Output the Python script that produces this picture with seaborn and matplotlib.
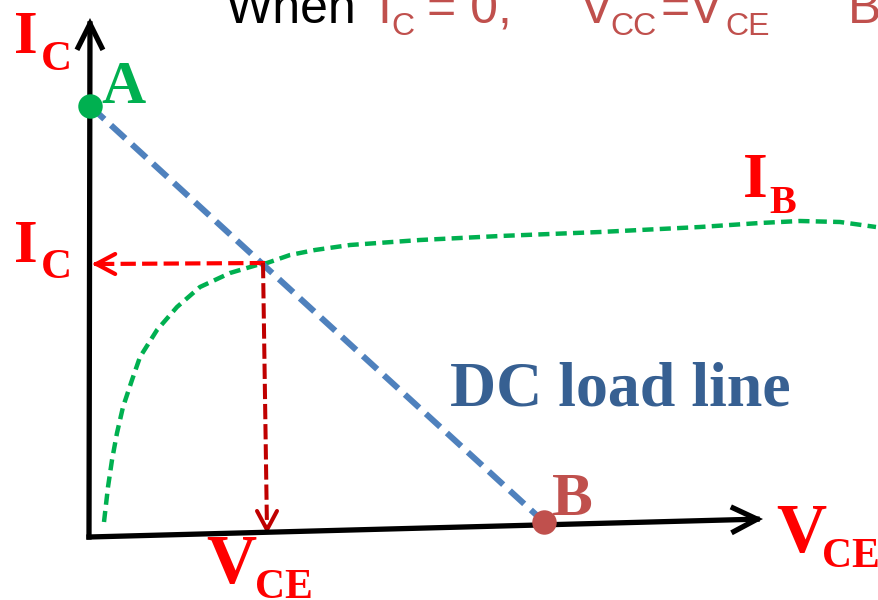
import numpy as np
import pandas as pd
import matplotlib.pyplot as plt
import seaborn as sns

# coordinates, in pixels (y grows downward)
origin = [89, 537]
ic_axis_tip = [90, 18]
vce_axis_tip = [763, 519]
point_a = [90, 106]
point_b = [544, 522]
q_point = [265, 263]
ic_arrow_tip = [92, 264]
vce_arrow_tip = [267, 534]

# base current curve (green dashed)
ib_x = [104, 108, 112, 117, 123, 132, 140, 157, 177, 200, 230, 257, 267,
        290, 315, 350, 420, 500, 600, 700, 760, 800, 840, 876]
ib_y = [522, 487, 460, 433, 407, 380, 357, 330, 307, 287, 273, 265, 263,
        255, 250, 245, 240, 236, 232, 227, 223, 221, 222, 227]

# colours
red = '#FF0000'
dark_red = '#C00000'
brick = '#C0504D'
green = '#00B050'
blue = '#4F81BD'
navy = '#376092'

sns.set_style("white")
plt.rcParams['lines.scale_dashes'] = False
serif = 'Liberation Serif'
sans = 'Liberation Sans'

fig = plt.figure(figsize=(8.79, 6.0), dpi=100)
ax = fig.add_axes([0, 0, 1, 1])

# green I_B curve
df_ib = pd.DataFrame({'x': ib_x, 'y': ib_y})
sns.lineplot(data=df_ib, x='x', y='y', sort=False, color=green, lw=3.2,
             linestyle=(0, (8, 4.5)), ax=ax)

# DC load line A -> B
df_load = pd.DataFrame({'x': [point_a[0], point_b[0]], 'y': [point_a[1], point_b[1]]})
sns.lineplot(data=df_load, x='x', y='y', sort=False, color=blue, lw=4.4,
             linestyle=(0, (14, 6.5)), ax=ax)

# projection of Q on the I_C axis
df_h = pd.DataFrame({'x': [q_point[0], ic_arrow_tip[0] + 4], 'y': [q_point[1], ic_arrow_tip[1]]})
sns.lineplot(data=df_h, x='x', y='y', sort=False, color=red, lw=3.0,
             linestyle=(0, (11, 4.5)), ax=ax)
ax.annotate('', xy=ic_arrow_tip, xytext=(ic_arrow_tip[0] + 6, ic_arrow_tip[1]),
            arrowprops=dict(arrowstyle='->,head_length=1.35,head_width=0.72',
                            color=red, lw=3.0, shrinkA=0, shrinkB=0, mutation_scale=10))

# projection of Q on the V_CE axis
df_v = pd.DataFrame({'x': [q_point[0] - 2, vce_arrow_tip[0]], 'y': [q_point[1], vce_arrow_tip[1] - 4]})
sns.lineplot(data=df_v, x='x', y='y', sort=False, color=dark_red, lw=2.9,
             linestyle=(0, (11, 3.5)), ax=ax)
ax.annotate('', xy=vce_arrow_tip, xytext=(vce_arrow_tip[0], vce_arrow_tip[1] - 6),
            arrowprops=dict(arrowstyle='->,head_length=1.35,head_width=0.72',
                            color=dark_red, lw=2.9, shrinkA=0, shrinkB=0, mutation_scale=10))

# axes with open arrow heads
for tip in (ic_axis_tip, vce_axis_tip):
    ax.annotate('', xy=tip, xytext=origin,
                arrowprops=dict(arrowstyle='->,head_length=1.7,head_width=0.85',
                                color='black', lw=3.8, shrinkA=0, shrinkB=0,
                                mutation_scale=10, capstyle='projecting',
                                joinstyle='miter'))

# points A and B
sns.scatterplot(x=[point_a[0]], y=[point_a[1]], color=green, s=310, linewidth=0, ax=ax, zorder=5)
sns.scatterplot(x=[point_b[0]], y=[point_b[1]], color=brick, s=310, linewidth=0, ax=ax, zorder=5)

# labels
def lab(x, y, s, size, color, family=serif, weight='bold'):
    ax.text(x, y, s, fontsize=size, color=color, family=family, fontweight=weight,
            ha='left', va='baseline')

lab(14, 53, 'I', 44, red)
lab(41, 70, 'C', 31, red)
lab(14, 262, 'I', 44, red)
lab(41, 278, 'C', 31, red)
lab(743, 197, 'I', 46, red)
lab(769, 213, 'B', 29, red)
lab(101, 103, 'A', 44, green)
lab(552, 515, 'B', 44, brick)
lab(206, 583, 'V', 50, red)
lab(255, 598, 'CE', 30, red)
lab(776, 552, 'V', 50, red)
lab(822, 567, 'CE', 30, red)
lab(450, 405, 'DC load line', 46, navy)

# heading cut off at the top of the picture
lab(226, 23, 'When', 36, 'black', family=sans, weight='normal')
lab(377, 23, 'I', 36, brick, family=sans, weight='normal')
lab(391, 35, 'C', 23, brick, family=sans, weight='normal')
lab(427, 23, '= 0,', 36, brick, family=sans, weight='normal')
lab(580, 23, 'V', 36, brick, family=sans, weight='normal')
lab(610, 35, 'CC', 23, brick, family=sans, weight='normal')
lab(661, 23, '=V', 36, brick, family=sans, weight='normal')
lab(725, 35, 'CE', 23, brick, family=sans, weight='normal')
lab(848, 23, 'B', 36, brick, family=sans, weight='normal')

ax.set_xlim(0, 879)
ax.set_ylim(600, 0)
ax.axis('off')

plt.savefig('out.png', dpi=100)
